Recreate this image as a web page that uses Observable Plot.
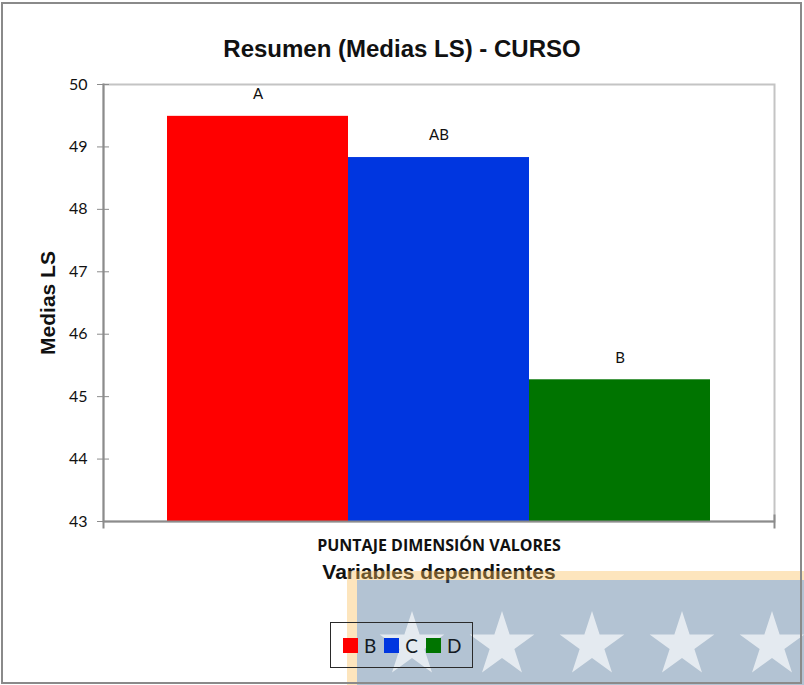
<!DOCTYPE html>
<html>
<head>
<meta charset="utf-8">
<script src="https://cdn.jsdelivr.net/npm/d3@7"></script>
<script src="https://cdn.jsdelivr.net/npm/@observablehq/plot@0.6"></script>
<style>
  html, body { margin: 0; padding: 0; background: #fff; }
  #wrap { position: relative; width: 804px; height: 685px; overflow: hidden; }
  #chart { position: absolute; left: 0; top: 0; }
  #border { position: absolute; left: 1px; top: 2px; width: 801px; height: 682px; border: 2px solid #8a8a8a; box-sizing: border-box; pointer-events: none; }
  #legend { position: absolute; left: 330px; top: 622px; width: 143px; height: 46px; border: 1.5px solid #2a2a2a; box-sizing: border-box; display: flex; align-items: center; padding-left: 12px; font-family: Lato, "Open Sans", sans-serif; font-size: 19px; color: #141a22; }
  #legend .item { display: flex; align-items: center; margin-right: 8px; }
  #legend .sw { width: 15px; height: 15px; margin-right: 6px; }
  #wm { position: absolute; left: 347px; top: 571px; right: 0; bottom: 0; border-left: 10px solid rgba(250,190,90,0.4); border-top: 9px solid rgba(250,190,90,0.4); background: rgba(65,105,145,0.4); background-clip: padding-box; }
  #stars { position: absolute; left: 0; top: 0; }
</style>
</head>
<body>
<div id="wrap">
  <div id="chart"></div>
  <div id="wm"></div>
  <svg id="stars" width="804" height="685"></svg>
  <div id="legend"></div>
  <div id="border"></div>
</div>
<script>
const title = "Resumen (Medias LS) - CURSO";
const yLabel = "Medias LS";
const xTitle = "Variables dependientes";
const categories = ["PUNTAJE DIMENSIÓN VALORES"];
const series = ["B", "C", "D"];
const values = [49.49, 48.83, 45.27];
const letters = ["A", "AB", "B"];
const colors = ["#ff0000", "#0036e0", "#007400"];
const yDomain = [43, 50];
const yTicks = [43, 44, 45, 46, 47, 48, 49, 50];

const data = series.map((s, i) => ({cat: categories[0], series: s, value: values[i], letter: letters[i]}));

const axisColor = "#8c8c8c";
const arial = "'Liberation Sans', Arial, sans-serif";
const calibriLike = "Lato, 'Open Sans', sans-serif";
const plot = Plot.plot({
  width: 804,
  height: 685,
  marginTop: 84,
  marginRight: 30,
  marginBottom: 164,
  marginLeft: 103,
  style: {background: "transparent", overflow: "visible"},
  fx: {domain: categories, padding: 0, label: null},
  x: {domain: series, paddingInner: 0, paddingOuter: 0.35, axis: null},
  y: {domain: yDomain, ticks: yTicks, label: null},
  color: {domain: series, range: colors},
  marks: [
    Plot.frame({stroke: "#c4c4c4", strokeWidth: 2}),
    Plot.barY(data, {fx: "cat", x: "series", y1: yDomain[0], y2: "value", fill: "series", inset: 0}),
    Plot.text(data, {fx: "cat", x: "series", y: "value", text: "letter", dy: -22, fontSize: 15, fontFamily: calibriLike, fill: "#111"}),
    Plot.ruleY([yDomain[0]], {stroke: axisColor, strokeWidth: 2}),
    Plot.frame({anchor: "left", stroke: axisColor, strokeWidth: 2, insetBottom: -6}),
    Plot.frame({anchor: "right", stroke: axisColor, strokeWidth: 2, insetTop: 431, insetBottom: -6}),
    Plot.axisY({ticks: yTicks, tickSize: 6, tickPadding: 10, tickFormat: d3.format("d"), stroke: axisColor, fontSize: 16, fontFamily: calibriLike, fill: "#111", label: null}),
    Plot.axisY({ticks: yTicks, tickSize: -6, tickFormat: () => "", stroke: axisColor, label: null}),
    Plot.axisFx({anchor: "bottom", tickSize: 0, tickPadding: 18, fontSize: 16, fontWeight: "bold", fontFamily: "'Open Sans', sans-serif", fill: "#111", label: null}),
    Plot.text([xTitle], {frameAnchor: "bottom", dy: 57, fontSize: 21, fontWeight: "bold", fontFamily: arial, fill: "#111"}),
    Plot.text([yLabel], {frameAnchor: "left", dx: -55, rotate: -90, textAnchor: "middle", fontSize: 21, fontWeight: "bold", fontFamily: arial, fill: "#111"}),
    Plot.text([title], {frameAnchor: "top", dx: -37, dy: -45, fontSize: 24, fontWeight: "bold", fontFamily: arial, fill: "#111"})
  ]
});
document.getElementById("chart").appendChild(plot);

// legend
const legend = d3.select("#legend");
series.forEach((s, i) => {
  const it = legend.append("div").attr("class", "item");
  it.append("div").attr("class", "sw").style("background", colors[i]);
  it.append("span").text(s);
});

// decorative watermark stars
const starCenters = [412, 502, 592, 682, 772];
const svg = d3.select("#stars");
function starPath(cx, cy, R) {
  const r = R * 0.382;
  const pts = [];
  for (let k = 0; k < 10; k++) {
    const a = -Math.PI / 2 + k * Math.PI / 5;
    const rr = k % 2 === 0 ? R : r;
    pts.push([cx + rr * Math.cos(a), cy + rr * Math.sin(a)]);
  }
  return "M" + pts.map(p => p.join(",")).join("L") + "Z";
}
starCenters.forEach(cx => {
  svg.append("path").attr("d", starPath(cx, 645, 34)).attr("fill", "rgba(255,255,255,0.65)");
});
</script>
</body>
</html>
